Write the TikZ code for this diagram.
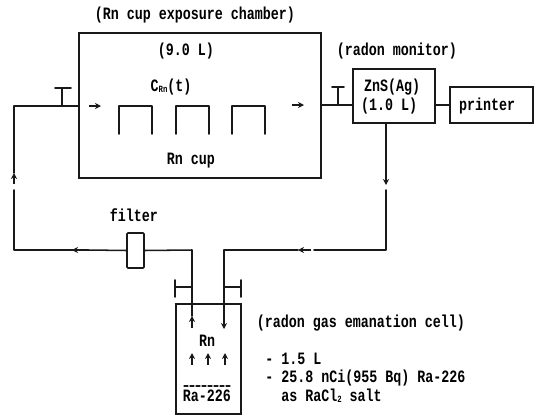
\documentclass[tikz,border=0pt]{standalone}
\usepackage{graphicx}
\usepackage{fontspec}
\setmainfont{Liberation Mono}
\usetikzlibrary{arrows.meta}
\newcommand\tallt[1]{\scalebox{1}[1.3]{#1}}
\newcommand\subsmall[1]{\raisebox{-0.5pt}{\fontsize{5.5}{6}\selectfont #1}}
\tikzset{
  line/.style={line width=1.15pt,black!90,line cap=round,line join=round},
  flowarrow/.style={line width=1.1pt,black!90,-{Stealth[length=4.5pt,width=4.5pt]}},
  box/.style={draw=black!90,line width=1.15pt,fill=none,inner sep=0pt,outer sep=0pt,minimum width=0pt},
  lbl/.style={inner sep=0pt,font=\fontsize{10}{12}\selectfont\bfseries,text=black},
}
\begin{document}
\begin{tikzpicture}[x=0.75pt,y=-0.75pt]
\useasboundingbox (0,0) rectangle (535,415);
% boxes
\node[box,minimum width=181.5pt,minimum height=108.75pt] (chamber) at (200,105.5) {};
\node[box,minimum width=61.5pt,minimum height=40.5pt] (monitor) at (394,96) {};
\node[box,minimum width=62.25pt,minimum height=27pt] (printer) at (491.5,105) {};
\node[box,rounded corners=0.8pt,minimum width=12.75pt,minimum height=26.25pt] (filter) at (135.5,250.5) {};
\node[box,minimum width=48.75pt,minimum height=82.5pt] (cell) at (208.5,359) {};
% junction coordinates
\coordinate (cl) at (79,106);
\coordinate (corner1) at (14,106);
\coordinate (vtop1) at (62,106);
\coordinate (vbar1) at (62,88);
\coordinate (vbar1a) at (55,88);
\coordinate (vbar1b) at (71,88);
\coordinate (corner2) at (14,250);
\coordinate (la1) at (14,190);
\coordinate (la2) at (14,173);
\coordinate (la0) at (14,184);
\coordinate (ba1) at (88,250);
\coordinate (ba2) at (72,250);
\coordinate (ba0) at (85,250);
\coordinate (cr) at (321,105);
\coordinate (mw) at (353,105);
\coordinate (vtop2) at (338,105);
\coordinate (vbar2) at (338,87);
\coordinate (vbar2a) at (332,87);
\coordinate (vbar2b) at (344,87);
\coordinate (me) at (435,105);
\coordinate (pw) at (450,105);
\coordinate (mdown) at (386,123);
\coordinate (ma) at (386,185);
\coordinate (mb) at (386,190);
\coordinate (corner3) at (386,250);
\coordinate (ra1) at (314,250);
\coordinate (ra2) at (298,250);
\coordinate (ra0) at (311,250);
\coordinate (corner4) at (224,250);
\coordinate (corner5) at (192,250);
\coordinate (inL) at (192,328);
\coordinate (inLtip) at (192,316);
\coordinate (inLmid) at (192,287);
\coordinate (inLbar) at (175,287);
\coordinate (inLbara) at (175,280);
\coordinate (inLbarb) at (175,297);
\coordinate (inR) at (224,329);
\coordinate (inRmid) at (224,287);
\coordinate (inRbar) at (241,287);
\coordinate (inRbara) at (241,280);
\coordinate (inRbarb) at (241,297);
% connectors
\draw[line] (cl) -- (corner1) -- (la2);
\draw[line] (la1) -- (corner2) -- (ba1);
\draw[flowarrow] (ba0) -- (ba2);
\draw[flowarrow] (la0) -- (la2);
\draw[line] (ba1) -- (filter.west);
\draw[line] (filter.east) -- (corner5) -- (inLtip);
\draw[flowarrow] (inL) -- (inLtip);
\draw[line] (vtop1) -- (vbar1);
\draw[line] (vbar1a) -- (vbar1b);
\draw[line] (cr) -- (mw);
\draw[line] (vtop2) -- (vbar2);
\draw[line] (vbar2a) -- (vbar2b);
\draw[line] (me) -- (pw);
\draw[flowarrow] (mdown) -- (ma);
\draw[line] (mb) -- (corner3) -- (ra1);
\draw[flowarrow] (ra0) -- (ra2);
\draw[line] (ra2) -- (corner4) -- (inRmid);
\draw[flowarrow] (inRmid) -- (inR);
\draw[line] (inLmid) -- (inLbar);
\draw[line] (inLbara) -- (inLbarb);
\draw[line] (inRmid) -- (inRbar);
\draw[line] (inRbara) -- (inRbarb);
% chamber arrows
\coordinate (ca1) at (89,106);\coordinate (ca2) at (101,106);
\coordinate (ca3) at (292,105);\coordinate (ca4) at (304,105);
\draw[flowarrow] (ca1) -- (ca2);
\draw[flowarrow] (ca3) -- (ca4);
% cups
\draw[line] (119,134) -- (119,106) -- (152,106) -- (152,134);
\draw[line] (176,134) -- (176,106) -- (209,106) -- (209,134);
\draw[line] (232,134) -- (232,106) -- (265,106) -- (265,134);
% cell interior
\draw[flowarrow] (192,365) -- (192,353);
\draw[flowarrow] (208,365) -- (208,353);
\draw[flowarrow] (225,365) -- (225,353);
\draw[line,line width=0.9pt,dash pattern=on 3pt off 1.5pt] (184,386) -- (232,386);
% labels
\node[lbl] (t1) at (195,15) {\tallt{(Rn cup exposure chamber)}};
\node[lbl] (t2) at (186,51) {\tallt{(9.0 L)}};
\node[lbl] (t3) at (171,87) {\tallt{C\subsmall{Rn}(t)}};
\node[lbl] (t4) at (191,161) {\tallt{Rn cup}};
\node[lbl] (t5) at (397,51) {\tallt{(radon monitor)}};
\node[lbl] (t6) at (392,87) {\tallt{ZnS(Ag)}};
\node[lbl] (t7) at (389,106) {\tallt{(1.0 L)}};
\node[lbl] (t8) at (487,106) {\tallt{printer}};
\node[lbl] (t9) at (134,215) {\tallt{filter}};
\node[lbl] (t10) at (207,341) {\tallt{Rn}};
\node[lbl] (t11) at (207,396) {\tallt{Ra-226}};
\node[lbl] (t12) at (361,323) {\tallt{(radon gas emanation cell)}};
\node[lbl,anchor=west] (t13) at (265,359) {\tallt{- 1.5 L}};
\node[lbl,anchor=west] (t14) at (265,378) {\tallt{- 25.8 nCi(955 Bq) Ra-226}};
\node[lbl,anchor=west] (t15) at (281,396) {\tallt{as RaCl\subsmall{2} salt}};
\end{tikzpicture}
\end{document}
